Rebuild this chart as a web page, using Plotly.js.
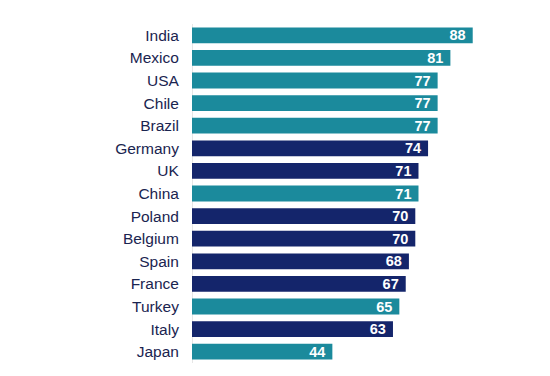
<!DOCTYPE html>
<html>
<head>
<meta charset="utf-8">
<script src="https://cdn.plot.ly/plotly-3.0.1.min.js"></script>
<style>html,body{margin:0;padding:0;background:#fff;}#chart{width:550px;height:376px;}</style>
</head>
<body>
<div id="chart"></div>
<script>
var countries = ["India","Mexico","USA","Chile","Brazil","Germany","UK","China","Poland","Belgium","Spain","France","Turkey","Italy","Japan"];
var values = [88,81,77,77,77,74,71,71,70,70,68,67,65,63,44];
var groups = ["teal","teal","teal","teal","teal","navy","navy","teal","navy","navy","navy","navy","teal","navy","teal"];
var palette = {teal: "#1b8a9c", navy: "#14256b"};

var colors = groups.map(function(g){ return palette[g]; });

var trace = {
  type: "bar",
  orientation: "h",
  x: values,
  y: countries,
  marker: {color: colors},
  text: values.map(function(v){ return v + "&nbsp;"; }),
  textposition: "inside",
  insidetextanchor: "end",
  textangle: 0,
  constraintext: "none",
  textfont: {family: "Liberation Sans, Arial, sans-serif", size: 14.5, color: "#ffffff", weight: "bold"},
  hoverinfo: "none",
  cliponaxis: false
};

var layout = {
  width: 550,
  height: 376,
  margin: {l: 192, r: 39, t: 24, b: 13},
  paper_bgcolor: "#ffffff",
  plot_bgcolor: "#ffffff",
  bargap: 0.3,
  showlegend: false,
  font: {family: "Liberation Sans, Arial, sans-serif"},
  xaxis: {
    range: [0, 100],
    showgrid: false,
    showticklabels: false,
    zeroline: true,
    zerolinecolor: "#e6e6e6",
    zerolinewidth: 1,
    fixedrange: true
  },
  yaxis: {
    autorange: "reversed",
    showgrid: false,
    zeroline: false,
    ticks: "outside",
    ticklen: 9,
    tickcolor: "rgba(0,0,0,0)",
    tickfont: {size: 15.5, color: "#1a2450"},
    fixedrange: true
  }
};

Plotly.newPlot("chart", [trace], layout, {displayModeBar: false, staticPlot: true});
</script>
</body>
</html>
